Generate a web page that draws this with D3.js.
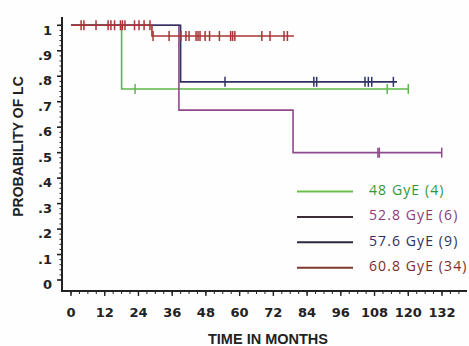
<!DOCTYPE html>
<html><head><meta charset="utf-8">
<script src="https://cdn.jsdelivr.net/npm/d3@7"></script>
<style>html,body{margin:0;padding:0;background:#fff;} svg{display:block}</style>
</head><body>
<svg id="chart" width="469" height="346"></svg>
<script>
// ---- data ----
const xTickMonths = [0,12,24,36,48,60,72,84,96,108,120,132];
const yTickValues = [0,0.1,0.2,0.3,0.4,0.5,0.6,0.7,0.8,0.9,1];
const yTickLabels = ["0",".1",".2",".3",".4",".5",".6",".7",".8",".9","1"];
const groupNames = ["48 GyE (4)","52.8 GyE (6)","57.6 GyE (9)","60.8 GyE (34)"];

// Kaplan-Meier step points [month, probability]
const km48  = [[0,1],[18,0.75],[120,0.75]];
const km528 = [[0,1],[38.4,0.667],[79,0.5],[131.9,0.5]];
const km576 = [[0,1],[39,0.778],[116,0.778]];
const km608 = [[0,1],[28.8,0.958],[79.3,0.958]];

// censored observations (months)
const cens48  = [22.8,112.5,120];
const cens528 = [109.2,109.7,131.9];
const cens576 = [54.8,86.4,87.4,104.6,105.8,107.0,114.7];
const cens608 = [3.6,4.6,8.9,13.2,14.2,15.5,17.6,18.3,19.2,22.6,24.2,26.0,28.1,
                 29.2,34.9,39.1,40.9,42.0,44.5,45.2,45.9,47.7,49.3,52.8,56.8,57.5,58.3,
                 67.9,70.8,75.8,77.0];

// ---- styles ----
const curveColors  = ["#5db84a","#8e4a8c","#2f3263","#a83434"];
const legendLine   = ["#6cc04a","#3b2c36","#2a2a40","#7c3a2c"];
const legendText   = ["#2f9a35","#8a3c7c","#2c2f62","#7a2e2c"];

const svg = d3.select("#chart");
svg.append("rect").attr("width",469).attr("height",346).attr("fill","#fefefe");

const x = d3.scaleLinear().domain([0,132]).range([71,442]);
const y = d3.scaleLinear().domain([0,1]).range([280,25.3]);

const axisX = 62, axisY = 291, axisRight = 467, axisTop = 17;
const ink = "#222";

// y axis
svg.append("line").attr("x1",axisX).attr("x2",axisX).attr("y1",axisTop).attr("y2",axisY+1)
  .attr("stroke",ink).attr("stroke-width",2);
const yMinor = d3.range(0,1.001,0.02);
svg.append("g").selectAll("line").data(yMinor).join("line")
  .attr("x1",axisX-2.5).attr("x2",axisX).attr("y1",d=>y(d)).attr("y2",d=>y(d))
  .attr("stroke",ink).attr("stroke-width",1);
svg.append("g").selectAll("line").data(yTickValues).join("line")
  .attr("x1",axisX-5).attr("x2",axisX).attr("y1",d=>y(d)).attr("y2",d=>y(d))
  .attr("stroke",ink).attr("stroke-width",1.6);
svg.append("g").selectAll("text").data(yTickValues).join("text")
  .attr("x",52).attr("y",d=>y(d)+9.2).attr("text-anchor","end")
  .attr("font-family","DejaVu Sans").attr("font-weight","bold").attr("font-size",13)
  .attr("fill","#222").text((d,i)=>yTickLabels[i]);

// x axis
svg.append("line").attr("x1",axisX-1).attr("x2",axisRight).attr("y1",axisY).attr("y2",axisY)
  .attr("stroke",ink).attr("stroke-width",2);
const xMinor = d3.range(0,139,3);
svg.append("g").selectAll("line").data(xMinor).join("line")
  .attr("x1",d=>x(d)).attr("x2",d=>x(d)).attr("y1",axisY).attr("y2",axisY+3)
  .attr("stroke",ink).attr("stroke-width",1);
svg.append("g").selectAll("line").data(xTickMonths).join("line")
  .attr("x1",d=>x(d)).attr("x2",d=>x(d)).attr("y1",axisY).attr("y2",axisY+5)
  .attr("stroke",ink).attr("stroke-width",1.4);
svg.append("g").selectAll("text").data(xTickMonths).join("text")
  .attr("x",d=>x(d)).attr("y",316.5).attr("text-anchor","middle")
  .attr("font-family","DejaVu Sans").attr("font-weight","bold").attr("font-size",13)
  .attr("fill","#222").text(d=>d);

// titles
svg.append("text").attr("x",268).attr("y",344).attr("text-anchor","middle")
  .attr("font-family","Liberation Sans").attr("font-weight","bold").attr("font-size",14.5)
  .attr("fill","#222").text("TIME IN MONTHS");
svg.append("text").attr("transform","translate(23,146.5) rotate(-90)").attr("text-anchor","middle")
  .attr("font-family","Liberation Sans").attr("font-weight","bold").attr("font-size",14)
  .attr("fill","#222").text("PROBABILITY OF LC");

// curves
const kmSeries = [km48, km528, km576, km608];
const censSeries = [cens48, cens528, cens576, cens608];
const line = d3.line().x(d=>x(d[0])).y(d=>y(d[1])).curve(d3.curveStepAfter);
function survAt(km, t){ let s = km[0][1]; for (const p of km){ if (p[0] <= t) s = p[1]; } return s; }

kmSeries.forEach((km,i)=>{
  const g = svg.append("g");
  g.append("path").attr("d",line(km)).attr("fill","none")
    .attr("stroke",curveColors[i]).attr("stroke-width",1.6);
  g.selectAll("line").data(censSeries[i]).join("line")
    .attr("x1",d=>x(d)).attr("x2",d=>x(d))
    .attr("y1",d=>y(survAt(km,d))-5).attr("y2",d=>y(survAt(km,d))+5)
    .attr("stroke",curveColors[i]).attr("stroke-width",1.5);
});

// legend
const lg = svg.append("g");
groupNames.forEach((name,i)=>{
  const ry = 191.5 + i*25.4;
  lg.append("line").attr("x1",297).attr("x2",353).attr("y1",ry).attr("y2",ry)
    .attr("stroke",legendLine[i]).attr("stroke-width",2);
  lg.append("text").attr("x",369).attr("y",ry+3.5)
    .attr("font-family","Open Sans").attr("font-size",14).attr("letter-spacing",1.1)
    .attr("fill",legendText[i]).text(name);
});
</script>
</body></html>
